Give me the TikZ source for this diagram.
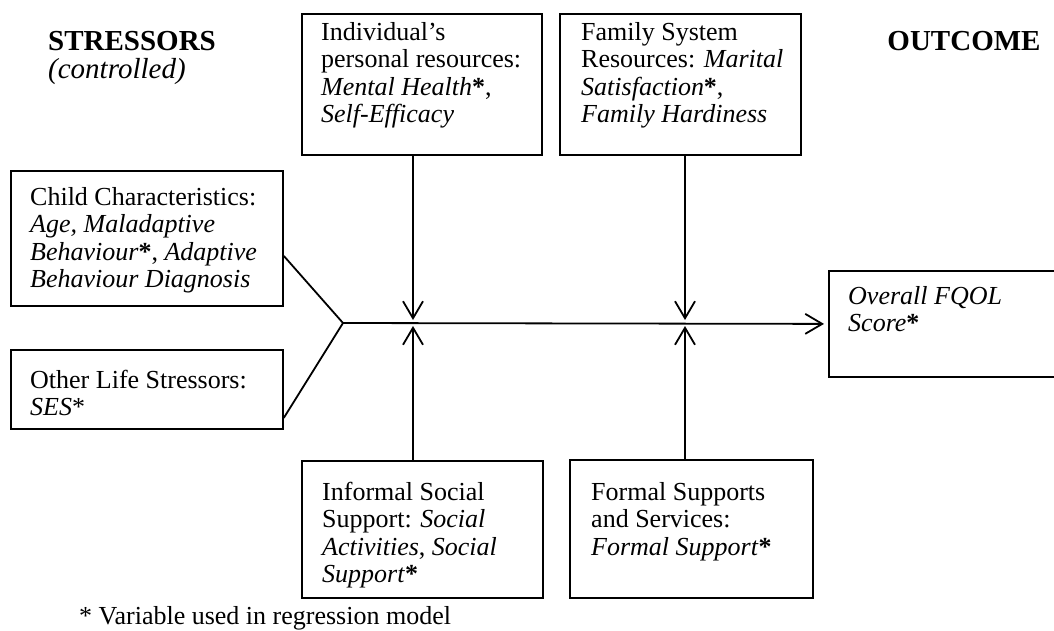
\documentclass[tikz,border=0pt]{standalone}
\usepackage{fontspec}
\setmainfont{Liberation Serif}
\usetikzlibrary{arrows.meta}
\newcommand\firstst{\rule{0pt}{23.4pt}}
\newcommand\myast{\textup{\textbf{*}}}
\begin{document}
\begin{tikzpicture}[x=1pt,y=-1pt,
  box/.style={draw,line width=1.8pt,inner sep=0pt,anchor=north west},
  txt/.style={anchor=north west,align=left,inner sep=0pt,font=\fontsize{26}{27.5}\selectfont},
  head/.style={anchor=base west,inner sep=0pt,font=\fontsize{29}{31}\selectfont},
  conn/.style={line width=1.8pt},
  arr/.style={line width=1.8pt,-{Straight Barb[length=17pt,width=20pt,line width=1.8pt]}}]
\useasboundingbox (0,0) rectangle (1054,630);
% headers
\node[head,font=\fontsize{29}{31}\selectfont\bfseries] (hs) at (48,50) {STRESSORS};
\node[head,font=\fontsize{29}{31}\selectfont\itshape] (hc) at (48,78) {(controlled)};
\node[head,anchor=base,font=\fontsize{29}{31}\selectfont\bfseries] (ho) at (964,50) {OUTCOME};
% boxes
\node[box,minimum width=240pt,minimum height=141pt] (A) at (301,13) {};
\node[box,minimum width=241pt,minimum height=141pt] (B) at (559,13) {};
\node[box,minimum width=272pt,minimum height=135pt] (C) at (10,170) {};
\node[box,minimum width=272pt,minimum height=79pt] (D) at (10,349) {};
\node[box,minimum width=241pt,minimum height=137pt] (E) at (301,460) {};
\node[box,minimum width=243pt,minimum height=138pt] (F) at (569,459) {};
\node[box,minimum width=226pt,minimum height=106pt] (G) at (828,270) {};
% texts
\node[txt] (At) at (321,40-23.4) {\firstst Individual's\\personal resources:\\\textit{Mental Health}\myast,\\\textit{Self-Efficacy}};
\node[txt] (Bt) at (581,40-23.4) {\firstst Family System\\Resources: \textit{Marital}\\\textit{Satisfaction}\myast,\\\textit{Family Hardiness}};
\node[txt] (Ct) at (30,205-23.4) {\firstst Child Characteristics:\\\textit{Age, Maladaptive}\\\textit{Behaviour}\myast, \textit{Adaptive}\\\textit{Behaviour Diagnosis}};
\node[txt] (Dt) at (30,388-23.4) {\firstst Other Life Stressors:\\\textit{SES}*};
\node[txt] (Et) at (322,500-23.4) {\firstst Informal Social\\Support: \textit{Social}\\\textit{Activities}, \textit{Social}\\\textit{Support}\myast};
\node[txt] (Ft) at (591,500-23.4) {\firstst Formal Supports\\and Services:\\\textit{Formal Support}\myast};
\node[txt] (Gt) at (848,304-23.4) {\firstst\textit{Overall FQOL}\\\textit{Score}\myast};
% footnote
\node[head,font=\fontsize{26}{27.5}\selectfont] (fn) at (79,624) {* Variable used in regression model};
% connectors
\coordinate (J) at (343,323);
\coordinate (m1) at (413,323);
\coordinate (m2) at (685,323);
\draw[conn] ([yshift=-17.5pt]C.east) -- (J);
\draw[conn] ([yshift=-28.5pt]D.east) -- (J);
\draw[arr] (J) -- ([xshift=-4pt]G.west);
\draw[arr] (m1 |- A.south) -- ([yshift=3pt]m1);
\draw[arr] (m1 |- E.north) -- ([yshift=-3pt]m1);
\draw[arr] (m2 |- B.south) -- ([yshift=3pt]m2);
\draw[arr] (m2 |- F.north) -- ([yshift=-3pt]m2);
\end{tikzpicture}
\end{document}
